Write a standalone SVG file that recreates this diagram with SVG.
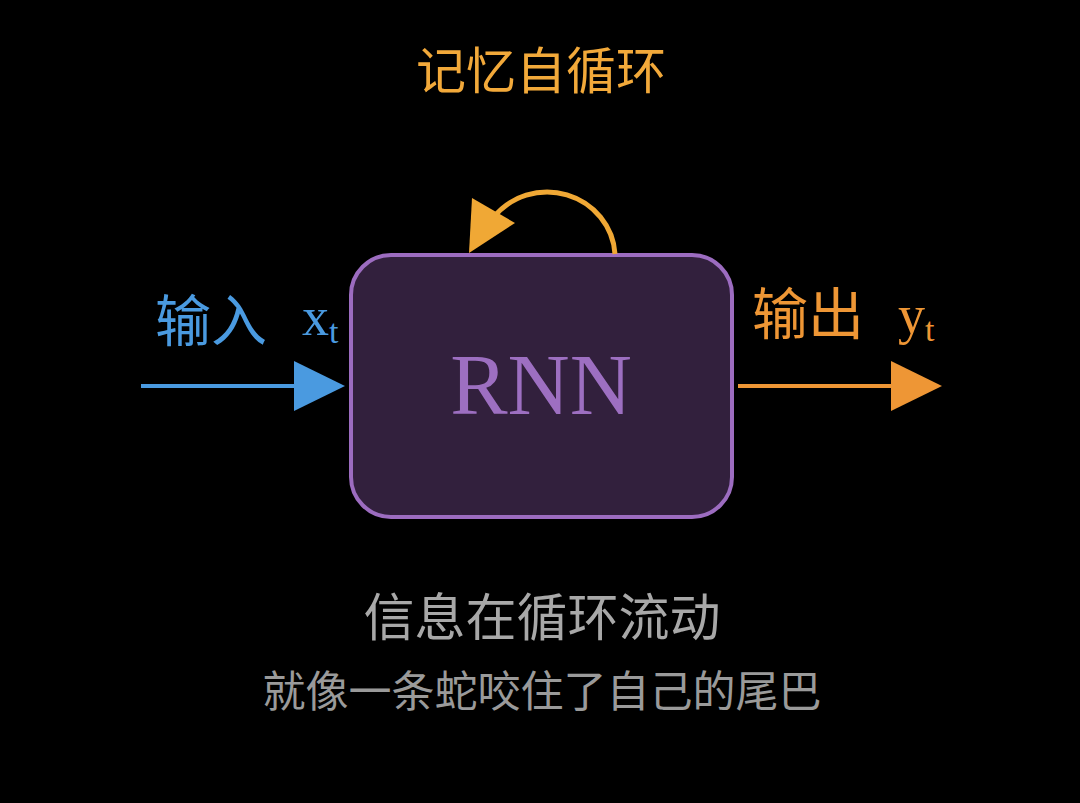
<svg xmlns="http://www.w3.org/2000/svg" width="1080" height="803" viewBox="0 0 1080 803">
<style>
.cjk{font-family:"Noto Sans CJK SC","Noto Sans",sans-serif}
.ser{font-family:"Liberation Serif","DejaVu Serif",serif}
</style>
<rect width="1080" height="803" fill="#000"/>
<text x="541" y="89" text-anchor="middle" class="cjk" font-size="50" fill="#f2a93a">记忆自循环</text>
<g id="rnn">
<rect x="351" y="255" width="381" height="262" rx="40" fill="#32203d" stroke="#9c6cc0" stroke-width="4"/>
<text x="541" y="414" text-anchor="middle" class="ser" font-size="86" fill="#9d6fc1">RNN</text>
</g>
<g id="connectors">
<line x1="141" y1="386" x2="300" y2="386" stroke="#4a9ae0" stroke-width="4"/>
<path d="M294,361 L345,386 L294,411 Z" fill="#4a9ae0"/>
<line x1="738" y1="386" x2="895" y2="386" stroke="#ee9635" stroke-width="4"/>
<path d="M891,361 L942,386 L891,411 Z" fill="#ee9635"/>
<path d="M615,254 A68,66 0 0 0 493,218" fill="none" stroke="#f0a835" stroke-width="5"/>
<path d="M469,253 L472,198 L515,223 Z" fill="#f0a835"/>
</g>
<g id="labels">
<text x="155" y="341" class="cjk" font-size="56" fill="#4a9ae0">输入</text>
<text x="302" y="335" class="ser" font-size="54" fill="#4a9ae0">x<tspan font-size="34" dy="8">t</tspan></text>
<text x="752" y="334" class="cjk" font-size="56" fill="#ee9635">输出</text>
<text x="898" y="333" class="ser" font-size="54" fill="#ee9635">y<tspan font-size="34" dy="8">t</tspan></text>
</g>
<text x="542" y="636" text-anchor="middle" class="cjk" font-size="51" fill="#a8a8a8">信息在循环流动</text>
<text x="542" y="707" text-anchor="middle" class="cjk" font-size="43" fill="#9a9a9a">就像一条蛇咬住了自己的尾巴</text>
</svg>
